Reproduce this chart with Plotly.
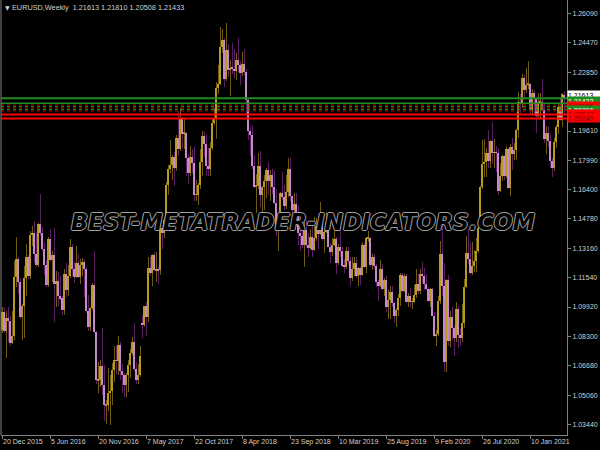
import plotly.graph_objects as go
import pandas as pd

# Weekly EURUSD candles, week of 13 Dec 2015 .. week of 9 May 2021
open_ = [
    1.0990, 1.0866, 1.0966,
    # 2016
    1.0860, 1.0930, 1.0915, 1.0795, 1.0830, 1.1155, 1.1255, 1.1130, 1.0935, 1.1000, 1.1150, 1.1268, 1.1165,
    1.1390, 1.1400, 1.1285, 1.1225, 1.1450, 1.1400, 1.1310, 1.1225, 1.1115, 1.1365, 1.1250, 1.1280, 1.1120,
    1.1135, 1.1050, 1.1040, 1.0975, 1.1175, 1.1085, 1.1160, 1.1325, 1.1200, 1.1155, 1.1235, 1.1155, 1.1225,
    1.1240, 1.1200, 1.0970, 1.0880, 1.0985, 1.1115, 1.0855, 1.0590, 1.0590, 1.0665, 1.0560, 1.0450, 1.0455,
    # 2017
    1.0520, 1.0530, 1.0645, 1.0700, 1.0695, 1.0785, 1.0640, 1.0615, 1.0560, 1.0620, 1.0670, 1.0740, 1.0800,
    1.0650, 1.0590, 1.0615, 1.0900, 1.0895, 1.0995, 1.0935, 1.1205, 1.1180, 1.1280, 1.1195, 1.1200, 1.1195,
    1.1425, 1.1400, 1.1470, 1.1665, 1.1750, 1.1775, 1.1820, 1.1760, 1.1925, 1.1860, 1.2035, 1.1945, 1.1950,
    1.1815, 1.1730, 1.1820, 1.1785, 1.1610, 1.1610, 1.1665, 1.1790, 1.1935, 1.1890, 1.1770, 1.1750, 1.1865,
    # 2018
    1.2005, 1.2030, 1.2200, 1.2220, 1.2425, 1.2460, 1.2250, 1.2405, 1.2295, 1.2310, 1.2305, 1.2290, 1.2350,
    1.2325, 1.2280, 1.2330, 1.2285, 1.2130, 1.1960, 1.1940, 1.1770, 1.1655, 1.1660, 1.1770, 1.1610, 1.1655,
    1.1685, 1.1745, 1.1685, 1.1720, 1.1655, 1.1565, 1.1410, 1.1440, 1.1620, 1.1600, 1.1550, 1.1625, 1.1750,
    1.1605, 1.1525, 1.1560, 1.1510, 1.1400, 1.1385, 1.1335, 1.1415, 1.1335, 1.1315, 1.1380, 1.1305, 1.1370,
    # 2019
    1.1440, 1.1395, 1.1470, 1.1365, 1.1405, 1.1455, 1.1325, 1.1295, 1.1335, 1.1365, 1.1235, 1.1325, 1.1300,
    1.1220, 1.1215, 1.1300, 1.1245, 1.1150, 1.1200, 1.1235, 1.1160, 1.1205, 1.1170, 1.1335, 1.1210, 1.1370,
    1.1370, 1.1225, 1.1270, 1.1220, 1.1130, 1.1110, 1.1200, 1.1090, 1.1140, 1.0990, 1.1030, 1.1075, 1.1015,
    1.0940, 1.0975, 1.1040, 1.1170, 1.1080, 1.1165, 1.1020, 1.1050, 1.1020, 1.1020, 1.1060, 1.1120, 1.1080,
    # 2020
    1.1175, 1.1160, 1.1120, 1.1090, 1.1025, 1.1090, 1.0945, 1.0830, 1.0845, 1.1025, 1.1285, 1.1105, 1.0690,
    1.1140, 1.0805, 1.0935, 1.0875, 1.0820, 1.0980, 1.0840, 1.0820, 1.0905, 1.1100, 1.1290, 1.1255, 1.1180,
    1.1220, 1.1245, 1.1300, 1.1425, 1.1655, 1.1780, 1.1790, 1.1840, 1.1795, 1.1905, 1.1840, 1.1845, 1.1840,
    1.1630, 1.1715, 1.1825, 1.1715, 1.1860, 1.1645, 1.1875, 1.1835, 1.1855, 1.1965, 1.2120, 1.2110, 1.2255,
    # 2021
    1.2185, 1.2215, 1.2220, 1.2075, 1.2170, 1.2135, 1.2045, 1.2120, 1.2120, 1.2075, 1.1915, 1.1950, 1.1905,
    1.1795, 1.1760, 1.1900, 1.1985, 1.2095, 1.2020, 1.21613,
]
high = [
    1.1060, 1.0991, 1.0993,
    1.0970, 1.0990, 1.0945, 1.0970, 1.1245, 1.1376, 1.1265, 1.1150, 1.1010, 1.1218, 1.1340, 1.1280, 1.1410,
    1.1440, 1.1465, 1.1400, 1.1455, 1.1616, 1.1430, 1.1350, 1.1250, 1.1375, 1.1415, 1.1300, 1.1428, 1.1190,
    1.1185, 1.1165, 1.1050, 1.1200, 1.1235, 1.1225, 1.1365, 1.1340, 1.1240, 1.1327, 1.1285, 1.1255, 1.1260,
    1.1255, 1.1215, 1.1060, 1.0990, 1.1125, 1.1300, 1.0860, 1.0690, 1.0700, 1.0875, 1.0670, 1.0480, 1.0655,
    1.0620, 1.0685, 1.0775, 1.0775, 1.0830, 1.0800, 1.0680, 1.0630, 1.0630, 1.0700, 1.0760, 1.0825, 1.0905,
    1.0690, 1.0680, 1.0780, 1.0950, 1.1000, 1.1020, 1.1265, 1.1270, 1.1285, 1.1295, 1.1295, 1.1215, 1.1445,
    1.1445, 1.1490, 1.1680, 1.1775, 1.1910, 1.1830, 1.1845, 1.1940, 1.2070, 1.2090, 1.2040, 1.2030, 1.1955,
    1.1835, 1.1880, 1.1860, 1.1880, 1.1690, 1.1675, 1.1860, 1.1960, 1.1960, 1.1940, 1.1865, 1.1900, 1.2025,
    1.2090, 1.2230, 1.2325, 1.2535, 1.2520, 1.2475, 1.2555, 1.2440, 1.2350, 1.2445, 1.2410, 1.2390, 1.2475,
    1.2345, 1.2395, 1.2415, 1.2300, 1.2140, 1.1985, 1.1995, 1.1830, 1.1725, 1.1840, 1.1850, 1.1660, 1.1720,
    1.1755, 1.1790, 1.1745, 1.1750, 1.1745, 1.1640, 1.1445, 1.1625, 1.1735, 1.1665, 1.1720, 1.1815, 1.1815,
    1.1610, 1.1620, 1.1620, 1.1550, 1.1455, 1.1500, 1.1470, 1.1470, 1.1400, 1.1420, 1.1440, 1.1485, 1.1480,
    1.1500, 1.1570, 1.1485, 1.1415, 1.1515, 1.1465, 1.1345, 1.1370, 1.1420, 1.1375, 1.1340, 1.1450, 1.1325,
    1.1255, 1.1325, 1.1325, 1.1265, 1.1265, 1.1265, 1.1265, 1.1215, 1.1215, 1.1350, 1.1345, 1.1375, 1.1410,
    1.1375, 1.1285, 1.1285, 1.1230, 1.1140, 1.1250, 1.1230, 1.1150, 1.1165, 1.1085, 1.1110, 1.1110, 1.1025,
    1.0985, 1.1065, 1.1180, 1.1180, 1.1175, 1.1175, 1.1070, 1.1095, 1.1040, 1.1115, 1.1200, 1.1175, 1.1200,
    1.1240, 1.1205, 1.1175, 1.1100, 1.1095, 1.1095, 1.0965, 1.0865, 1.1055, 1.1355, 1.1495, 1.1235, 1.1145,
    1.1170, 1.0970, 1.0990, 1.0890, 1.1020, 1.1000, 1.0875, 1.1010, 1.1145, 1.1385, 1.1420, 1.1350, 1.1350,
    1.1305, 1.1370, 1.1450, 1.1660, 1.1910, 1.1915, 1.1865, 1.1965, 1.1910, 1.2010, 1.1915, 1.1880, 1.1870,
    1.1785, 1.1830, 1.1830, 1.1880, 1.1870, 1.1890, 1.1920, 1.1895, 1.1970, 1.2175, 1.2165, 1.2275, 1.2270,
    1.2310, 1.2349, 1.2225, 1.2190, 1.2185, 1.2150, 1.2170, 1.2170, 1.2245, 1.2115, 1.1990, 1.1990, 1.1945,
    1.1815, 1.1925, 1.1995, 1.2115, 1.2150, 1.2170, 1.21810,
]
low = [
    1.0805, 1.0850, 1.0850,
    1.0710, 1.0800, 1.0780, 1.0790, 1.0810, 1.1100, 1.1065, 1.0925, 1.0810, 1.0822, 1.1055, 1.1145, 1.1145,
    1.1330, 1.1235, 1.1215, 1.1215, 1.1385, 1.1300, 1.1170, 1.1100, 1.1100, 1.1240, 1.1130, 1.0912, 1.0990,
    1.1000, 1.1030, 1.0950, 1.0950, 1.1045, 1.1050, 1.1150, 1.1160, 1.1125, 1.1150, 1.1150, 1.1120, 1.1160,
    1.1045, 1.0960, 1.0860, 1.0860, 1.0975, 1.0850, 1.0570, 1.0517, 1.0550, 1.0505, 1.0365, 1.0350, 1.0420,
    1.0340, 1.0450, 1.0580, 1.0620, 1.0620, 1.0590, 1.0520, 1.0495, 1.0495, 1.0525, 1.0600, 1.0730, 1.0640,
    1.0570, 1.0570, 1.0605, 1.0820, 1.0880, 1.0835, 1.0910, 1.1160, 1.1110, 1.1190, 1.1130, 1.1120, 1.1170,
    1.1310, 1.1370, 1.1440, 1.1610, 1.1730, 1.1690, 1.1660, 1.1740, 1.1825, 1.1850, 1.1870, 1.1860, 1.1715,
    1.1670, 1.1715, 1.1730, 1.1575, 1.1575, 1.1555, 1.1640, 1.1715, 1.1820, 1.1715, 1.1715, 1.1715, 1.1855,
    1.1995, 1.1915, 1.2165, 1.2215, 1.2390, 1.2205, 1.2235, 1.2260, 1.2155, 1.2275, 1.2255, 1.2240, 1.2285,
    1.2215, 1.2265, 1.2270, 1.2055, 1.1910, 1.1825, 1.1750, 1.1645, 1.1510, 1.1640, 1.1540, 1.1510, 1.1525,
    1.1590, 1.1610, 1.1575, 1.1615, 1.1560, 1.1385, 1.1300, 1.1430, 1.1580, 1.1525, 1.1530, 1.1600, 1.1575,
    1.1465, 1.1430, 1.1430, 1.1335, 1.1300, 1.1315, 1.1215, 1.1325, 1.1265, 1.1310, 1.1270, 1.1300, 1.1355,
    1.1310, 1.1390, 1.1355, 1.1290, 1.1400, 1.1320, 1.1235, 1.1275, 1.1330, 1.1175, 1.1225, 1.1270, 1.1215,
    1.1180, 1.1200, 1.1225, 1.1110, 1.1135, 1.1160, 1.1150, 1.1105, 1.1115, 1.1160, 1.1205, 1.1180, 1.1350,
    1.1210, 1.1195, 1.1200, 1.1100, 1.1025, 1.1100, 1.1085, 1.1050, 1.0965, 1.0925, 1.0925, 1.0990, 1.0905,
    1.0880, 1.0940, 1.1000, 1.1075, 1.1075, 1.1015, 1.0990, 1.0990, 1.0980, 1.1015, 1.1040, 1.1065, 1.1065,
    1.1125, 1.1085, 1.1085, 1.1020, 1.0990, 1.0940, 1.0825, 1.0780, 1.0830, 1.1010, 1.1055, 1.0635, 1.0635,
    1.0780, 1.0770, 1.0810, 1.0725, 1.0800, 1.0765, 1.0775, 1.0800, 1.0875, 1.1095, 1.1230, 1.1170, 1.1170,
    1.1185, 1.1185, 1.1290, 1.1420, 1.1640, 1.1705, 1.1710, 1.1755, 1.1755, 1.1780, 1.1755, 1.1735, 1.1610,
    1.1625, 1.1685, 1.1690, 1.1700, 1.1640, 1.1605, 1.1745, 1.1800, 1.1800, 1.1925, 1.2060, 1.2085, 1.2130,
    1.2170, 1.2190, 1.2055, 1.2055, 1.2055, 1.1950, 1.2030, 1.2025, 1.2070, 1.1895, 1.1835, 1.1875, 1.1760,
    1.1705, 1.1740, 1.1870, 1.1945, 1.2015, 1.1985, 1.20508,
]
close = [
    1.0866, 1.0966, 1.0860,
    1.0930, 1.0915, 1.0795, 1.0830, 1.1155, 1.1255, 1.1130, 1.0935, 1.1000, 1.1150, 1.1268, 1.1165, 1.1390,
    1.1400, 1.1285, 1.1225, 1.1450, 1.1400, 1.1310, 1.1225, 1.1115, 1.1365, 1.1250, 1.1280, 1.1120, 1.1135,
    1.1050, 1.1040, 1.0975, 1.1175, 1.1085, 1.1160, 1.1325, 1.1200, 1.1155, 1.1235, 1.1155, 1.1225, 1.1240,
    1.1200, 1.0970, 1.0880, 1.0985, 1.1115, 1.0855, 1.0590, 1.0590, 1.0665, 1.0560, 1.0450, 1.0455, 1.0520,
    1.0530, 1.0645, 1.0700, 1.0695, 1.0785, 1.0640, 1.0615, 1.0560, 1.0620, 1.0670, 1.0740, 1.0800, 1.0650,
    1.0590, 1.0615, 1.0725, 1.0895, 1.0995, 1.0935, 1.1205, 1.1180, 1.1280, 1.1195, 1.1200, 1.1195, 1.1425,
    1.1400, 1.1470, 1.1665, 1.1750, 1.1775, 1.1820, 1.1760, 1.1925, 1.1860, 1.2035, 1.1945, 1.1950, 1.1815,
    1.1730, 1.1820, 1.1785, 1.1610, 1.1610, 1.1665, 1.1790, 1.1935, 1.1890, 1.1770, 1.1750, 1.1865, 1.2005,
    1.2030, 1.2200, 1.2220, 1.2425, 1.2460, 1.2250, 1.2405, 1.2295, 1.2310, 1.2305, 1.2290, 1.2350, 1.2325,
    1.2280, 1.2330, 1.2285, 1.2130, 1.1960, 1.1940, 1.1770, 1.1655, 1.1660, 1.1770, 1.1610, 1.1655, 1.1685,
    1.1745, 1.1685, 1.1720, 1.1655, 1.1565, 1.1410, 1.1440, 1.1620, 1.1600, 1.1550, 1.1625, 1.1750, 1.1605,
    1.1525, 1.1560, 1.1510, 1.1400, 1.1385, 1.1335, 1.1415, 1.1335, 1.1315, 1.1380, 1.1305, 1.1370, 1.1440,
    1.1395, 1.1470, 1.1365, 1.1405, 1.1455, 1.1325, 1.1295, 1.1335, 1.1365, 1.1235, 1.1325, 1.1300, 1.1220,
    1.1215, 1.1300, 1.1245, 1.1150, 1.1200, 1.1235, 1.1160, 1.1205, 1.1170, 1.1335, 1.1210, 1.1370, 1.1370,
    1.1225, 1.1270, 1.1220, 1.1130, 1.1110, 1.1200, 1.1090, 1.1140, 1.0990, 1.1030, 1.1075, 1.1015, 1.0940,
    1.0975, 1.1040, 1.1170, 1.1080, 1.1165, 1.1020, 1.1050, 1.1020, 1.1020, 1.1060, 1.1120, 1.1080, 1.1175,
    1.1160, 1.1120, 1.1090, 1.1025, 1.1090, 1.0945, 1.0830, 1.0845, 1.1025, 1.1285, 1.1105, 1.0690, 1.1140,
    1.0805, 1.0935, 1.0875, 1.0820, 1.0980, 1.0840, 1.0820, 1.0905, 1.1100, 1.1290, 1.1255, 1.1180, 1.1220,
    1.1245, 1.1300, 1.1425, 1.1655, 1.1780, 1.1790, 1.1840, 1.1795, 1.1905, 1.1840, 1.1845, 1.1840, 1.1630,
    1.1715, 1.1825, 1.1715, 1.1860, 1.1645, 1.1875, 1.1835, 1.1855, 1.1965, 1.2120, 1.2110, 1.2255, 1.2185,
    1.2215, 1.2220, 1.2075, 1.2170, 1.2135, 1.2045, 1.2120, 1.2120, 1.2075, 1.1915, 1.1950, 1.1905, 1.1795,
    1.1760, 1.1900, 1.1985, 1.2095, 1.2020, 1.2165, 1.21433,
]
assert len(open_) == len(high) == len(low) == len(close)

dates = pd.date_range("2015-12-13", periods=len(close), freq="7D")

x_tick_dates = ["2015-12-20", "2016-06-05", "2016-11-20", "2017-05-07", "2017-10-22", "2018-04-08",
                "2018-09-23", "2019-03-10", "2019-08-25", "2020-02-09", "2020-07-26", "2021-01-10"]
x_tick_text = ["20 Dec 2015", "5 Jun 2016", "20 Nov 2016", "7 May 2017", "22 Oct 2017", "8 Apr 2018",
               "23 Sep 2018", "10 Mar 2019", "25 Aug 2019", "9 Feb 2020", "26 Jul 2020", "10 Jan 2021"]
y_tick_vals = [1.26090, 1.24470, 1.22850, 1.19610, 1.17990, 1.16400, 1.14780, 1.13160,
               1.11540, 1.09920, 1.08300, 1.06680, 1.05060, 1.03440]

# horizontal level lines: price, colour, width, dash
level_prices = [1.2141, 1.2114, 1.2104, 1.2096, 1.2088, 1.2080, 1.2072, 1.2052, 1.2030]
level_colors = ["#1E8C1E", "#1E8C1E", "#D00000", "#00A000", "#D00000", "#00A000", "#D00000", "#FF0000", "#FF0000"]
level_widths = [2, 1.5, 1, 1, 1, 1, 1, 2, 2]
level_dash = ["solid", "solid", "dot", "dot", "dot", "dot", "dot", "solid", "solid"]

# right-edge price labels (drawn in this order): price, background, text colour, text
label_prices = [1.21592, 1.21262, 1.20986, 1.20766, 1.20547, 1.20326]
label_bg = ["#FFFFFF", "#1E8C1E", "#FF0000", "#1E8C1E", "#FF0000", "#FF0000"]
label_fg = ["#000000", "#FFFFFF", "#800000", "#FFFFFF", "#800000", "#800000"]
label_text = ["1.21613", "1.21433", "1.21106", "1.20766", "1.20547", "1.20240"]

title_text = "EURUSD,Weekly\u00a0\u00a01.21613 1.21810 1.20508 1.21433"
watermark = "BEST-METATRADER-INDICATORS.COM"

UP_BODY, UP_WICK = "#B89A1E", "#6E5C10"
DN_BODY, DN_WICK = "#C888D0", "#5A2060"

W, H = 600, 450
ML, MR, MT, MB = 1, 33, 0, 15
Y0, Y1 = 1.02873, 1.26822

week_ms = 7 * 24 * 3600 * 1000
is_up = [c >= o for o, c in zip(open_, close)]
wick_colors = [UP_WICK if u else DN_WICK for u in is_up]
body_colors = [UP_BODY if u else DN_BODY for u in is_up]
body_base = [min(o, c) for o, c in zip(open_, close)]
body_len = [max(abs(c - o), 0.0004) for o, c in zip(open_, close)]
wick_len = [h - l for h, l in zip(high, low)]

fig = go.Figure()
fig.add_trace(go.Bar(x=dates, base=low, y=wick_len, width=0.5 * week_ms,
                     marker=dict(color=wick_colors, line=dict(width=0)), hoverinfo="skip"))
fig.add_trace(go.Bar(x=dates, base=body_base, y=body_len, width=0.55 * week_ms,
                     marker=dict(color=body_colors, line=dict(width=0)), hoverinfo="skip"))

ref = pd.Timestamp("2015-12-20")
x0 = ref - pd.Timedelta(weeks=0.75)
x1 = ref + pd.Timedelta(weeks=282.25)

FONT = "Liberation Sans, Arial, sans-serif"
TXT = "#D0D0D0"

shapes = []
for p, c, w, d in zip(level_prices, level_colors, level_widths, level_dash):
    shapes.append(dict(type="line", xref="paper", yref="y", x0=0, x1=1, y0=p, y1=p,
                       line=dict(color=c, width=w, dash=d), layer="above"))
shapes.append(dict(type="line", xref="paper", yref="paper", x0=0, x1=0, y0=0, y1=1,
                   line=dict(color="#808080", width=1)))

ann = []
for d, t in zip(x_tick_dates, x_tick_text):
    ann.append(dict(x=d, y=0, xref="x", yref="paper", text=t, showarrow=False, xanchor="left",
                    yanchor="top", xshift=-2, yshift=-1, font=dict(family=FONT, size=7, color=TXT)))
for p, bg, fg, t in zip(label_prices, label_bg, label_fg, label_text):
    ann.append(dict(x=1.0, y=p, xref="paper", yref="y", text=t, showarrow=False, xanchor="left",
                    yanchor="middle", xshift=0, width=33, height=8, borderpad=0, align="left",
                    bgcolor=bg, font=dict(family=FONT, size=7, color=fg)))
ann.append(dict(x=0, y=1, xref="paper", yref="paper", text="\u25BC", showarrow=False, xanchor="left",
                yanchor="middle", xshift=2, yshift=-7, font=dict(family="DejaVu Sans", size=6, color=TXT)))
ann.append(dict(x=0, y=1, xref="paper", yref="paper", text=title_text, showarrow=False, xanchor="left",
                yanchor="middle", xshift=9, yshift=-7, font=dict(family=FONT, size=7.3, color=TXT)))
ann.append(dict(x=0.534, y=0.49, xref="paper", yref="paper", text=watermark, showarrow=False,
                xanchor="center", yanchor="middle",
                font=dict(family="DejaVu Sans", size=22.3, color="#000000", style="italic", weight="bold",
                          shadow="1px 0 0 #A0A0A0, -1px 0 0 #A0A0A0, 0 1px 0 #A0A0A0, 0 -1px 0 #A0A0A0")))

fig.update_layout(
    width=W, height=H, margin=dict(l=ML, r=MR, t=MT, b=MB),
    paper_bgcolor="#000000", plot_bgcolor="#000000",
    barmode="overlay", bargap=0, showlegend=False,
    shapes=shapes, annotations=ann,
    xaxis=dict(type="date", range=[x0, x1], tickvals=x_tick_dates, showticklabels=False,
               ticks="outside", ticklen=3, tickcolor="#808080", showline=True, linecolor="#808080",
               linewidth=1, showgrid=False, zeroline=False, fixedrange=True),
    yaxis=dict(side="right", range=[Y0, Y1], tickvals=y_tick_vals,
               ticktext=[f"{v:.5f}" for v in y_tick_vals], ticks="outside", ticklen=3,
               tickcolor="#808080", showline=True, linecolor="#808080", linewidth=1,
               showgrid=False, zeroline=False, fixedrange=True,
               tickfont=dict(family=FONT, size=7, color=TXT)),
)
fig.write_html("out.html", config={"displayModeBar": False},
               post_script="document.body.style.margin='0';")
